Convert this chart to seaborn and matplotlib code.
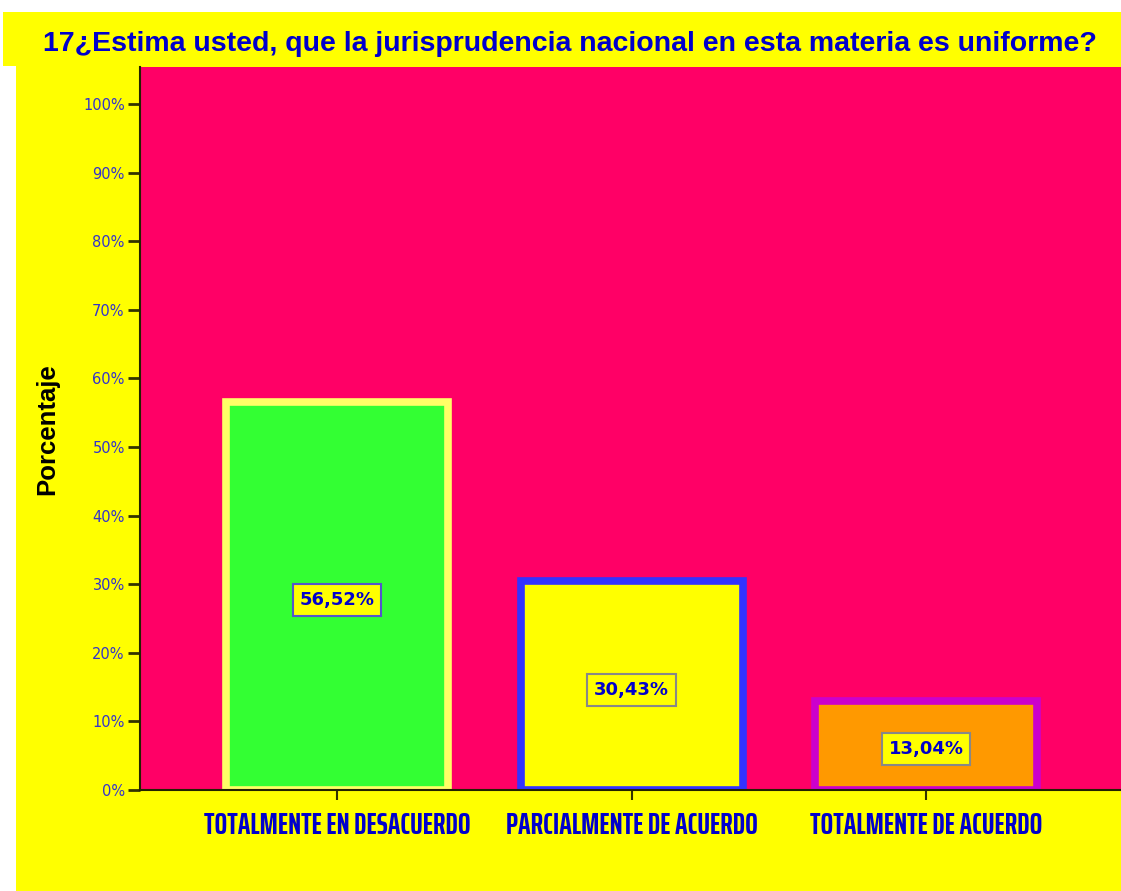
import matplotlib
matplotlib.use("Agg")
import matplotlib.pyplot as plt
import seaborn as sns
import pandas as pd
from matplotlib.patches import Rectangle
from matplotlib.ticker import FuncFormatter

categorias = ["TOTALMENTE EN DESACUERDO", "PARCIALMENTE DE ACUERDO", "TOTALMENTE DE ACUERDO"]
porcentajes = [56.52, 30.43, 13.04]
etiquetas = ["56,52%", "30,43%", "13,04%"]
colores = ["#33FF33", "#FFFF00", "#FF9900"]
bordes = ["#FFFF66", "#3333FF", "#CC00CC"]
bordes_etiqueta = ["#5555CC", "#888888", "#888888"]

df = pd.DataFrame({"cat": categorias, "pct": porcentajes})

sns.set_style("white")
fig = plt.figure(figsize=(11.21, 8.91), dpi=100)
fig.patch.set_facecolor("white")

# fondos amarillos (banda del titulo y zona principal)
fig.patches.append(Rectangle((0.0027, 0.926), 1.0, 0.0605, transform=fig.transFigure,
                             facecolor="#FFFF00", edgecolor="none", zorder=-10))
fig.patches.append(Rectangle((0.0143, 0.0), 1.0, 0.927, transform=fig.transFigure,
                             facecolor="#FFFF00", edgecolor="none", zorder=-10))

fig.text(0.508, 0.951, "17¿Estima usted, que la jurisprudencia nacional en esta materia es uniforme?",
         ha="center", va="center", fontsize=20.5, fontweight="bold", color="#0000CC",
         family=["Liberation Sans", "DejaVu Sans"])

ax = fig.add_axes([0.1249, 0.1134, 0.8751, 0.8114])
ax.set_facecolor("#FF0066")

sns.barplot(data=df, x="cat", y="pct", hue="cat", palette=colores, legend=False,
            width=0.754, ax=ax, saturation=1)

for p, ec in zip(ax.patches, bordes):
    p.set_edgecolor(ec)
    p.set_linewidth(5.5)

for i, (v, t) in enumerate(zip(porcentajes, etiquetas)):
    ax.text(i, v / 2 - 0.6, t, ha="center", va="center", fontsize=13, fontweight="bold",
            color="#0000CC", family="DejaVu Sans",
            bbox=dict(boxstyle="square,pad=0.38", facecolor="#FFFF00",
                      edgecolor=bordes_etiqueta[i], linewidth=1.5))

ax.set_xlim(-0.669, 2.662)
ax.set_ylim(0, 105.4)
ax.set_yticks(range(0, 101, 10))
ax.yaxis.set_major_formatter(FuncFormatter(lambda v, _: f"{int(v)}%"))

ax.spines["top"].set_visible(False)
ax.spines["right"].set_visible(False)
for s in ["left", "bottom"]:
    ax.spines[s].set_color("#222200")
    ax.spines[s].set_linewidth(1.5)

ax.tick_params(axis="y", which="major", left=True, length=9, width=2, color="#333300",
               labelcolor="#3333CC", labelsize=10.5, pad=2)
ax.tick_params(axis="x", which="major", bottom=True, length=7, width=1.5, color="#333300",
               labelcolor="#0000CC", pad=8)
for lab in ax.get_xticklabels():
    lab.set_family(["Saira ExtraCondensed", "Liberation Sans", "DejaVu Sans"])
    lab.set_fontweight("bold")
    lab.set_fontsize(21.5)
for lab in ax.get_yticklabels():
    lab.set_family(["DejaVu Sans"])

ax.set_xlabel("")
ax.set_ylabel("")
fig.text(0.042, 0.518, "Porcentaje", rotation=90, ha="center", va="center",
         fontsize=18.5, fontweight="bold", color="black", family=["Liberation Sans", "DejaVu Sans"])

fig.savefig("out.png", dpi=100, facecolor=fig.get_facecolor())
